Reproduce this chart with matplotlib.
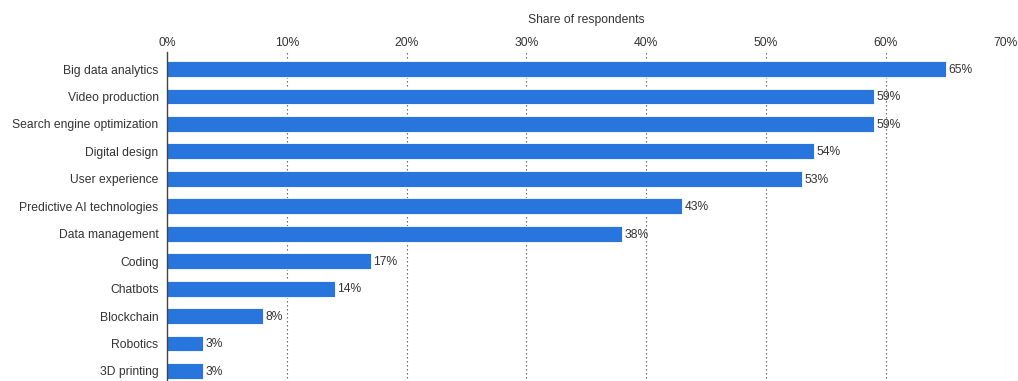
import matplotlib
matplotlib.use("Agg")
import matplotlib.pyplot as plt

categories = ["Big data analytics", "Video production", "Search engine optimization",
              "Digital design", "User experience", "Predictive AI technologies",
              "Data management", "Coding", "Chatbots", "Blockchain", "Robotics", "3D printing"]
shares = [65, 59, 59, 54, 53, 43, 38, 17, 14, 8, 3, 3]
ticks = [0, 10, 20, 30, 40, 50, 60, 70]

plt.rcParams['font.family'] = ['Liberation Sans', 'DejaVu Sans']
text_color = '#333333'
fs = 8.7

fig = plt.figure(figsize=(10.18, 3.81), dpi=100)
ax = fig.add_axes([0.164, -0.0097, 0.824, 0.8732])

pos = list(range(len(categories)))
ax.barh(pos, shares, height=0.58, color='#2876dd', edgecolor='white', linewidth=0.6, zorder=3)
for y, v in zip(pos, shares):
    ax.text(v + 0.2, y + 0.03, "{}%".format(v), va='center', ha='left', fontsize=fs, color=text_color, zorder=4)

ax.set_xlim(0, 70)
ax.set_ylim(11.5, -0.62)
ax.set_yticks(pos)
ax.set_yticklabels(categories, fontsize=fs, color=text_color)
ax.set_xticks(ticks)
ax.set_xticklabels(["{}%".format(t) for t in ticks], fontsize=fs, color=text_color)
ax.xaxis.tick_top()
ax.xaxis.set_label_position('top')
ax.set_xlabel("Share of respondents", fontsize=fs, color=text_color, labelpad=10)
ax.tick_params(axis='y', length=0, pad=6)
ax.tick_params(axis='x', length=0, pad=2.5)

for t in ticks[1:]:
    ax.axvline(t, color='#555555', linestyle=(0, (1.2, 2.4)), linewidth=0.8, zorder=1)

for s in ['top', 'right', 'bottom']:
    ax.spines[s].set_visible(False)
ax.spines['left'].set_color('#444444')
ax.spines['left'].set_linewidth(1.0)
ax.spines['left'].set_zorder(5)

fig.savefig("out.png", dpi=100)
